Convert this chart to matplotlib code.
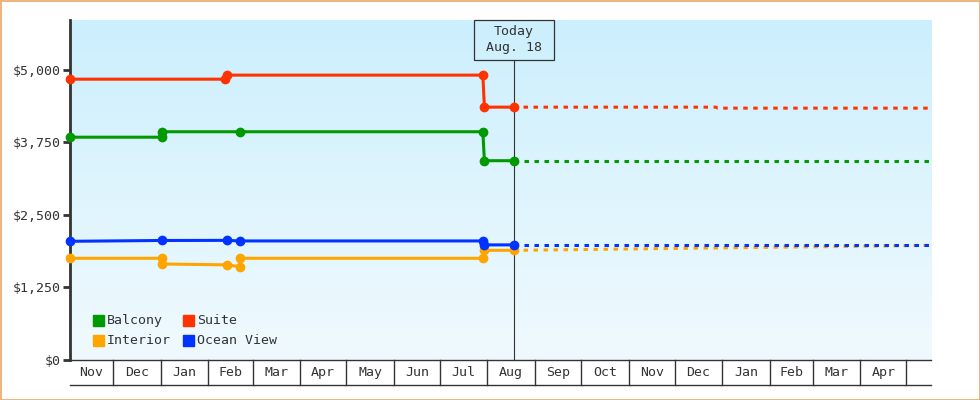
import matplotlib
matplotlib.use("Agg")
import matplotlib.pyplot as plt
import matplotlib.dates as mdates
from matplotlib.patches import Rectangle
from matplotlib.transforms import IdentityTransform, blended_transform_factory
import numpy as np
import pandas as pd

# ---------------- data ----------------
series_names = ["Balcony", "Suite", "Interior", "Ocean View"]
series_colors = ["#009900", "#ff3300", "#ffa500", "#0033ff"]

balcony_dates = ["2023-11-03", "2024-01-02", "2024-01-02", "2024-02-22", "2024-07-29", "2024-07-30", "2024-08-18"]
balcony_vals = [3840, 3840, 3934, 3934, 3934, 3435, 3435]
balcony_proj_dates = ["2024-08-18", "2025-05-17"]
balcony_proj_vals = [3435, 3435]

suite_dates = ["2023-11-03", "2024-02-12", "2024-02-13", "2024-07-29", "2024-07-30", "2024-08-18"]
suite_vals = [4840, 4840, 4910, 4910, 4358, 4358]
suite_proj_dates = ["2024-08-18", "2024-12-28", "2024-12-29", "2025-05-17"]
suite_proj_vals = [4358, 4358, 4341, 4341]

interior_dates = ["2023-11-03", "2024-01-02", "2024-01-02", "2024-02-13", "2024-02-22", "2024-02-22",
                  "2024-07-29", "2024-07-30", "2024-08-18"]
interior_vals = [1753, 1753, 1655, 1640, 1608, 1753, 1753, 1890, 1890]
interior_proj_dates = ["2024-08-18", "2025-05-17"]
interior_proj_vals = [1890, 1975]

ocean_dates = ["2023-11-03", "2024-01-02", "2024-02-13", "2024-02-22", "2024-07-29", "2024-07-30", "2024-08-18"]
ocean_vals = [2046, 2060, 2062, 2052, 2052, 1984, 1984]
ocean_proj_dates = ["2024-08-18", "2025-05-17"]
ocean_proj_vals = [1984, 1984]

y_ticks = [0, 1250, 2500, 3750, 5000]
y_tick_labels = ["$0", "$1,250", "$2,500", "$3,750", "$5,000"]
month_labels = ["Nov", "Dec", "Jan", "Feb", "Mar", "Apr", "May", "Jun", "Jul", "Aug",
                "Sep", "Oct", "Nov", "Dec", "Jan", "Feb", "Mar", "Apr"]
x_start = "2023-11-03"
x_end = "2025-05-17"
today = "2024-08-18"
today_label = "Today\nAug. 18"

# ---------------- style ----------------
FONT = "DejaVu Sans Mono"
plt.rcParams["font.family"] = [FONT]
plt.rcParams["lines.scale_dashes"] = False
TXT = "#333333"
FS = 9.5

W, H = 980, 400
fig = plt.figure(figsize=(W / 100, H / 100), dpi=100)
L, R, T, B = 70, 931, 20, 360
ax = fig.add_axes([L / W, (H - B) / H, (R - L) / W, (B - T) / H])

xs = pd.Timestamp(x_start)
xe = pd.Timestamp(x_end)

# gradient background
grad = np.linspace(0, 1, 256).reshape(-1, 1)
top_c = np.array([0xcc, 0xef, 0xfd]) / 255
bot_c = np.array([0xf0, 0xfa, 0xfe]) / 255
img = top_c[None, None, :] * (1 - grad[:, :, None]) + bot_c[None, None, :] * grad[:, :, None]
ax.imshow(img, extent=[0, 1, 0, 1], transform=ax.transAxes, aspect="auto", zorder=0)

series = [
    (balcony_dates, balcony_vals, balcony_proj_dates, balcony_proj_vals, series_colors[0]),
    (suite_dates, suite_vals, suite_proj_dates, suite_proj_vals, series_colors[1]),
    (interior_dates, interior_vals, interior_proj_dates, interior_proj_vals, series_colors[2]),
    (ocean_dates, ocean_vals, ocean_proj_dates, ocean_proj_vals, series_colors[3]),
]
for d, v, pd_, pv, c in series:
    ax.plot(pd.to_datetime(pd_), pv, color=c, lw=2.2, dashes=(3.2, 4.0), dash_capstyle="butt",
            zorder=3, clip_on=False)
for d, v, pd_, pv, c in series:
    ax.plot(pd.to_datetime(d), v, color=c, lw=2.2, marker="o", ms=6.0, mec=c, mfc=c,
            zorder=4, clip_on=False, solid_joinstyle="round")

ax.set_xlim(xs, xe)
ax.set_ylim(0, 5860)

# spines
for s in ["top", "right"]:
    ax.spines[s].set_visible(False)
ax.spines["left"].set_color("#333333")
ax.spines["left"].set_linewidth(2.0)
ax.spines["left"].set_zorder(2)
ax.spines["bottom"].set_color("#333333")
ax.spines["bottom"].set_linewidth(1.0)

ax.set_yticks(y_ticks)
ax.set_yticklabels(y_tick_labels, fontsize=FS, color=TXT, family=FONT)
ax.tick_params(axis="y", length=5, width=2, color="#333333", pad=2)
ax.set_xticks([])

# month row below axis
trans = blended_transform_factory(ax.transData, ax.transAxes)
row_h = 25 / (B - T)
month_starts = pd.date_range(xs.to_period("M").to_timestamp(), xe, freq="MS")
bounds = [xs] + [m for m in month_starts if m > xs] + [xe]
for m in bounds[1:-1]:
    ax.plot([m, m], [0, -row_h], transform=trans, color="#333333", lw=1.0, clip_on=False)
ax.plot([xs, xe], [-row_h, -row_h], transform=trans, color="#333333", lw=1.0, clip_on=False)
for i, lab in enumerate(month_labels):
    a, b = bounds[i], bounds[i + 1]
    mid = a + (b - a) / 2
    ax.text(mid, -row_h / 2, lab, transform=trans, ha="center", va="center",
            fontsize=FS, color=TXT, family=FONT, clip_on=False)

# today line and box
td = pd.Timestamp(today)
box_h = 40 / (B - T)
ax.plot([td, td], [0, 1 - box_h], transform=trans, color="#333333", lw=0.8, zorder=2.5)
fig.canvas.draw()
tx = ax.transData.transform((mdates.date2num(td), 0))[0]
fig.patches.append(Rectangle((tx - 40, H - 60), 80, 40, transform=IdentityTransform(),
                             fill=False, ec="#333333", lw=0.9, figure=fig))
l1, l2 = today_label.split("\n")
fig.text(tx / W, (H - 32) / H, l1, ha="center", va="center", fontsize=FS, color=TXT, family=FONT)
fig.text(tx / W, (H - 48) / H, l2, ha="center", va="center", fontsize=FS, color=TXT, family=FONT)

# legend (manual)
leg_pos = {0: (93, 320.5), 1: (183, 320.5), 2: (93, 340.5), 3: (183, 340.5)}
for i, name in enumerate(series_names):
    px, py = leg_pos[i]
    fig.patches.append(Rectangle((px / W, (H - py - 5.5) / H), 11 / W, 11 / H,
                                 transform=fig.transFigure, color=series_colors[i], figure=fig))
    fig.text((px + 14) / W, (H - py) / H, name, ha="left", va="center",
             fontsize=FS, color=TXT, family=FONT)

# outer border
fig.patches.append(Rectangle((0.5 / W, 0.5 / H), (W - 1) / W, (H - 1) / H,
                             transform=fig.transFigure, fill=False, ec="#eaa865", lw=1.2, figure=fig))

fig.savefig("out.png", dpi=100)
